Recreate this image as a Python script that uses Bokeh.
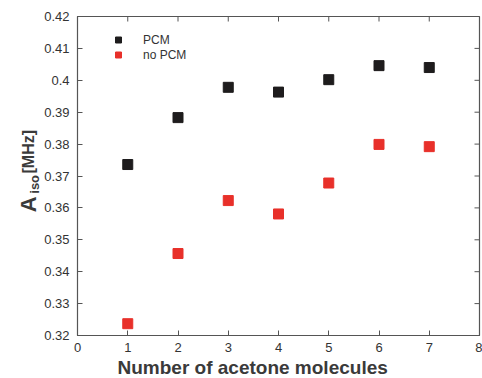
import math
from bokeh.plotting import figure
from bokeh.layouts import row
from bokeh.models import Range1d, FixedTicker, Legend, LegendItem, Title
from bokeh.core.properties import value
from bokeh.embed import file_html
from bokeh.resources import INLINE

# ---- data ----
molecules = [1, 2, 3, 4, 5, 6, 7]
pcm = [0.3736, 0.3883, 0.3978, 0.3963, 0.4002, 0.4046, 0.4040]
no_pcm = [0.3237, 0.3457, 0.3623, 0.3581, 0.3678, 0.3799, 0.3792]
series_names = ["PCM", "no PCM"]
x_ticks = [0, 1, 2, 3, 4, 5, 6, 7, 8]
y_ticks = [0.32, 0.33, 0.34, 0.35, 0.36, 0.37, 0.38, 0.39, 0.40, 0.41, 0.42]
y_tick_labels = ["0.32", "0.33", "0.34", "0.35", "0.36", "0.37", "0.38", "0.39", "0.4", "0.41", "0.42"]
x_title = "Number of acetone molecules"
y_title_parts = ["A", "iso", "[MHz]"]

FONT = "Liberation Sans"
TXT = "#333333"
TITLE_C = "#3a3a3a"
AXC = "#555555"
BLACK = "#1e1c1d"
RED = "#e8302a"

X0, X1 = x_ticks[0], x_ticks[-1]
Y0, Y1 = y_ticks[0], y_ticks[-1]

# ---------------- main plot ----------------
p = figure(width=442, height=378, output_backend="svg", toolbar_location=None,
           x_range=Range1d(X0, X1), y_range=Range1d(Y0, Y1),
           min_border_left=37, min_border_right=3, min_border_top=16, min_border_bottom=43)
p.background_fill_color = "white"
p.border_fill_color = "white"
p.outline_line_color = AXC
p.outline_line_width = 1.2
p.xgrid.visible = False
p.ygrid.visible = False

p.xaxis.ticker = FixedTicker(ticks=x_ticks)
p.yaxis.ticker = FixedTicker(ticks=y_ticks)
p.yaxis.major_label_overrides = {t: l for t, l in zip(y_ticks, y_tick_labels)}
for ax in list(p.xaxis) + list(p.yaxis):
    ax.axis_line_color = AXC
    ax.major_tick_in = 5
    ax.major_tick_out = 0
    ax.minor_tick_line_color = None
    ax.major_tick_line_color = AXC
    ax.major_label_text_font = FONT
    ax.major_label_text_font_size = "13px"
    ax.major_label_text_color = TXT
p.xaxis.major_label_standoff = 7
p.yaxis.major_label_standoff = 8

# mirrored inward ticks on top and right edges (tick length as a fraction of the range)
tick_fx = 5 / 402 * (X1 - X0)
tick_fy = 5 / 319 * (Y1 - Y0)
p.segment(x0=x_ticks, y0=[Y1] * len(x_ticks), x1=x_ticks, y1=[Y1 - tick_fy] * len(x_ticks),
          line_color=AXC, line_width=1)
p.segment(x0=[X1] * len(y_ticks), y0=y_ticks, x1=[X1 - tick_fx] * len(y_ticks), y1=y_ticks,
          line_color=AXC, line_width=1)

r1 = p.scatter(molecules, pcm, marker="square", size=10, fill_color=BLACK, line_color=BLACK)
r2 = p.scatter(molecules, no_pcm, marker="square", size=10, fill_color=RED, line_color=RED)

legend = Legend(items=[LegendItem(label=series_names[0], renderers=[r1]),
                       LegendItem(label=series_names[1], renderers=[r2])],
                location="top_left", margin=16, padding=0, spacing=0,
                glyph_width=50, glyph_height=15, label_height=15, label_standoff=0,
                label_text_font=FONT, label_text_font_size="12px", label_text_color=TXT,
                border_line_color=None, background_fill_alpha=0)
p.add_layout(legend)

p.add_layout(Title(text=x_title, align="left", offset=40, standoff=0,
                   text_font=FONT, text_font_size="19px", text_font_style="bold",
                   text_color=TITLE_C), "below")

# ---------------- y title strip ----------------
yl = figure(width=40, height=378, output_backend="svg", toolbar_location=None,
            x_range=Range1d(0, 40), y_range=Range1d(0, 378),
            x_axis_location=None, y_axis_location=None, min_border=0)
yl.outline_line_color = None
yl.xgrid.visible = False
yl.ygrid.visible = False
yl.background_fill_color = "white"
yl.border_fill_color = "white"
# positions of the pieces inside the strip (pixels from its bottom-left)
yl.text(x=[28], y=[146], text=[y_title_parts[0]], angle=math.pi / 2,
        text_font=value(FONT), text_font_size="22px", text_font_style="bold",
        text_color=TITLE_C, text_align="left", text_baseline="alphabetic")
yl.text(x=[33.5], y=[168], text=[y_title_parts[1]], angle=math.pi / 2,
        text_font=value(FONT), text_font_size="13px", text_font_style="bold",
        text_color=TITLE_C, text_align="left", text_baseline="alphabetic")
yl.text(x=[27.5], y=[192], text=[y_title_parts[2]], angle=math.pi / 2,
        text_font=value(FONT), text_font_size="16px", text_font_style="bold",
        text_color=TITLE_C, text_align="left", text_baseline="alphabetic")

layout = row(yl, p, spacing=0)
open("out.html", "w").write(file_html(layout, INLINE))
